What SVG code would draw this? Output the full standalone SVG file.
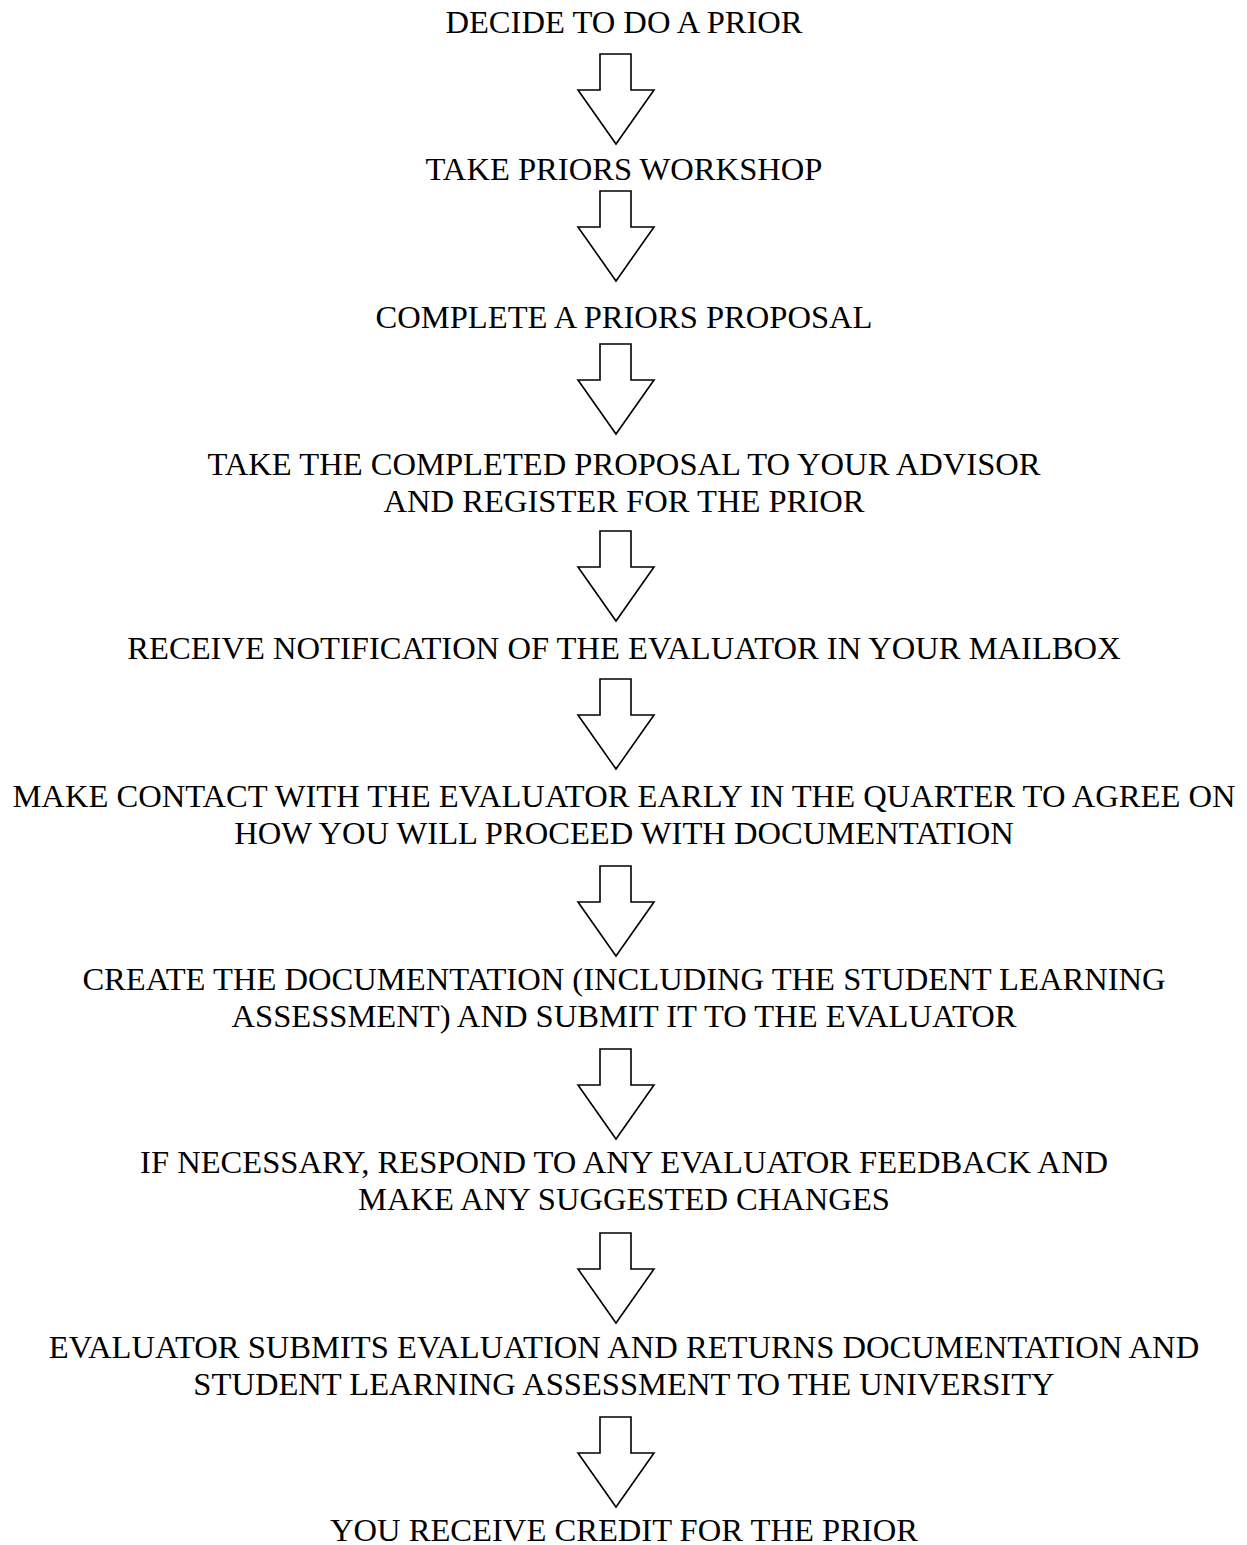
<svg xmlns="http://www.w3.org/2000/svg" width="1247" height="1545" viewBox="0 0 1247 1545">
<style>
text{font-family:"Liberation Serif","Times New Roman",serif;font-size:32.6px;fill:#000;text-anchor:middle}
.arr{fill:#fff;stroke:#000;stroke-width:1.6;stroke-linejoin:miter}
</style>
<defs>
<path id="a" class="arr" d="M600,0 L631,0 L631,36 L654,36 L616,90 L578,36 L600,36 Z"/>
</defs>
<rect width="1247" height="1545" fill="#fff"/>
<g id="connectors">
<use href="#a" y="54"/>
<use href="#a" y="191"/>
<use href="#a" y="344"/>
<use href="#a" y="531"/>
<use href="#a" y="679"/>
<use href="#a" y="866"/>
<use href="#a" y="1049"/>
<use href="#a" y="1233"/>
<use href="#a" y="1417"/>
</g>
<g id="n1"><text x="624" y="33">DECIDE TO DO A PRIOR</text></g>
<g id="n2"><text x="624" y="180">TAKE PRIORS WORKSHOP</text></g>
<g id="n3"><text x="624" y="328">COMPLETE A PRIORS PROPOSAL</text></g>
<g id="n4"><text x="624" y="475">TAKE THE COMPLETED PROPOSAL TO YOUR ADVISOR</text><text x="624" y="512">AND REGISTER FOR THE PRIOR</text></g>
<g id="n5"><text x="624" y="659">RECEIVE NOTIFICATION OF THE EVALUATOR IN YOUR MAILBOX</text></g>
<g id="n6"><text x="624" y="807">MAKE CONTACT WITH THE EVALUATOR EARLY IN THE QUARTER TO AGREE ON</text><text x="624" y="844">HOW YOU WILL PROCEED WITH DOCUMENTATION</text></g>
<g id="n7"><text x="624" y="990">CREATE THE DOCUMENTATION (INCLUDING THE STUDENT LEARNING</text><text x="624" y="1027">ASSESSMENT) AND SUBMIT IT TO THE EVALUATOR</text></g>
<g id="n8"><text x="624" y="1173">IF NECESSARY, RESPOND TO ANY EVALUATOR FEEDBACK AND</text><text x="624" y="1210">MAKE ANY SUGGESTED CHANGES</text></g>
<g id="n9"><text x="624" y="1358">EVALUATOR SUBMITS EVALUATION AND RETURNS DOCUMENTATION AND</text><text x="624" y="1395">STUDENT LEARNING ASSESSMENT TO THE UNIVERSITY</text></g>
<g id="n10"><text x="624" y="1541">YOU RECEIVE CREDIT FOR THE PRIOR</text></g>
</svg>
